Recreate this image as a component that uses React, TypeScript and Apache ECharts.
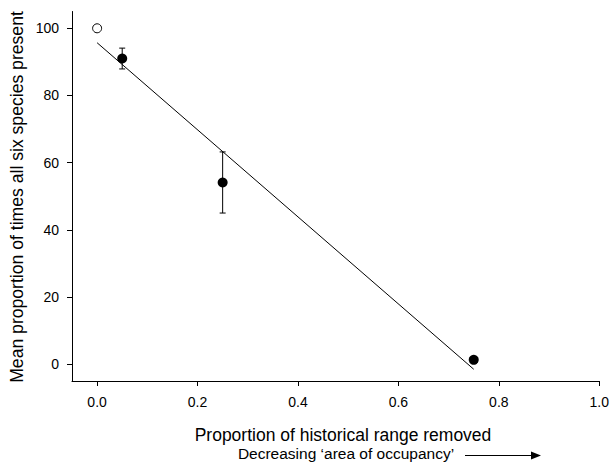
import React, { useEffect, useRef } from "react";
import * as echarts from "echarts";

const xTicks = [0, 0.2, 0.4, 0.6, 0.8, 1.0];
const yTicks = [0, 20, 40, 60, 80, 100];
const xValues = [0.05, 0.25, 0.75];
const meanValues = [91.0, 54.1, 1.3];
const errValues = [3.1, 9.1, 0];
const openX = [0];
const openY = [100];
const fitX = [0, 0.75];
const fitY = [95.7, -1.5];

const xName = "Proportion of historical range removed";
const xSubName = "Decreasing \u2018area of occupancy\u2019";
const yName = "Mean proportion of times all six species present";

const FONT = "'Liberation Sans', Arial, Helvetica, sans-serif";

export default function App() {
  const ref = useRef<HTMLDivElement>(null);
  useEffect(() => {
    if (!ref.current) return;
    const chart = echarts.init(ref.current, undefined, { renderer: "svg" });
    const filled = xValues.map((x, i) => [x, meanValues[i]]);
    const errs = xValues.map((x, i) => [x, meanValues[i], errValues[i]]);
    const open = openX.map((x, i) => [x, openY[i]]);
    const fit = fitX.map((x, i) => [x, fitY[i]]);
    chart.setOption({
      animation: false,
      backgroundColor: "#fff",
      textStyle: { fontFamily: FONT },
      grid: { left: 72, right: 11, top: 11.5, bottom: 83, containLabel: false },
      xAxis: {
        type: "value",
        min: -0.05,
        max: 1.0,
        splitLine: { show: false },
        axisLine: { onZero: false, lineStyle: { color: "#000", width: 1 } },
        axisTick: { customValues: xTicks, length: 5, lineStyle: { color: "#000" } },
        axisLabel: {
          customValues: xTicks,
          margin: 14,
          fontSize: 14,
          color: "#000",
          fontFamily: FONT,
          formatter: (v: number) => v.toFixed(1),
        },
      },
      yAxis: {
        type: "value",
        min: -5,
        max: 105,
        splitLine: { show: false },
        axisLine: { onZero: false, lineStyle: { color: "#000", width: 1 } },
        axisTick: { customValues: yTicks, length: 5, lineStyle: { color: "#000" } },
        axisLabel: {
          customValues: yTicks,
          margin: 13,
          fontSize: 14,
          color: "#000",
          fontFamily: FONT,
          formatter: (v: number) => String(Math.round(v)),
        },
      },
      series: [
        {
          type: "line",
          data: fit,
          symbol: "none",
          lineStyle: { color: "#000", width: 1 },
          z: 1,
        },
        {
          type: "custom",
          data: errs,
          z: 2,
          renderItem: (params: any, api: any) => {
            const x = api.value(0);
            const y = api.value(1);
            const e = api.value(2);
            if (!e) return { type: "group", children: [] };
            const top = api.coord([x, y + e]);
            const bot = api.coord([x, y - e]);
            const style = { stroke: "#000", lineWidth: 1 };
            return {
              type: "group",
              children: [
                { type: "line", shape: { x1: top[0], y1: top[1], x2: bot[0], y2: bot[1] }, style },
                { type: "line", shape: { x1: top[0] - 3, y1: top[1], x2: top[0] + 3, y2: top[1] }, style },
                { type: "line", shape: { x1: bot[0] - 3, y1: bot[1], x2: bot[0] + 3, y2: bot[1] }, style },
              ],
            };
          },
        },
        {
          type: "scatter",
          data: filled,
          symbol: "circle",
          symbolSize: 10,
          itemStyle: { color: "#000", opacity: 1 },
          z: 3,
        },
        {
          type: "scatter",
          data: open,
          symbol: "circle",
          symbolSize: 9,
          itemStyle: { color: "#fff", borderColor: "#000", borderWidth: 1, opacity: 1 },
          z: 3,
        },
      ],
      graphic: [
        {
          type: "text",
          x: 343,
          y: 435,
          style: {
            text: xName,
            fontSize: 17.5,
            fontFamily: FONT,
            fill: "#000",
            textAlign: "center",
            textVerticalAlign: "middle",
          },
        },
        {
          type: "text",
          x: 346,
          y: 453,
          style: {
            text: xSubName,
            fontSize: 15.5,
            fontFamily: FONT,
            fill: "#000",
            textAlign: "center",
            textVerticalAlign: "middle",
          },
        },
        {
          type: "line",
          shape: { x1: 465, y1: 455.5, x2: 532, y2: 455.5 },
          style: { stroke: "#000", lineWidth: 1 },
        },
        {
          type: "polygon",
          shape: { points: [[531, 451.5], [541, 455.5], [531, 459.5]] },
          style: { fill: "#000" },
        },
        {
          type: "text",
          x: 17,
          y: 197,
          rotation: Math.PI / 2,
          style: {
            text: yName,
            fontSize: 17.6,
            fontFamily: FONT,
            fill: "#000",
            textAlign: "center",
            textVerticalAlign: "middle",
          },
        },
      ],
    });
    return () => chart.dispose();
  }, []);
  return (
    <div
      ref={ref}
      style={{ position: "absolute", left: 0, top: 0, width: 612, height: 464 }}
    />
  );
}
